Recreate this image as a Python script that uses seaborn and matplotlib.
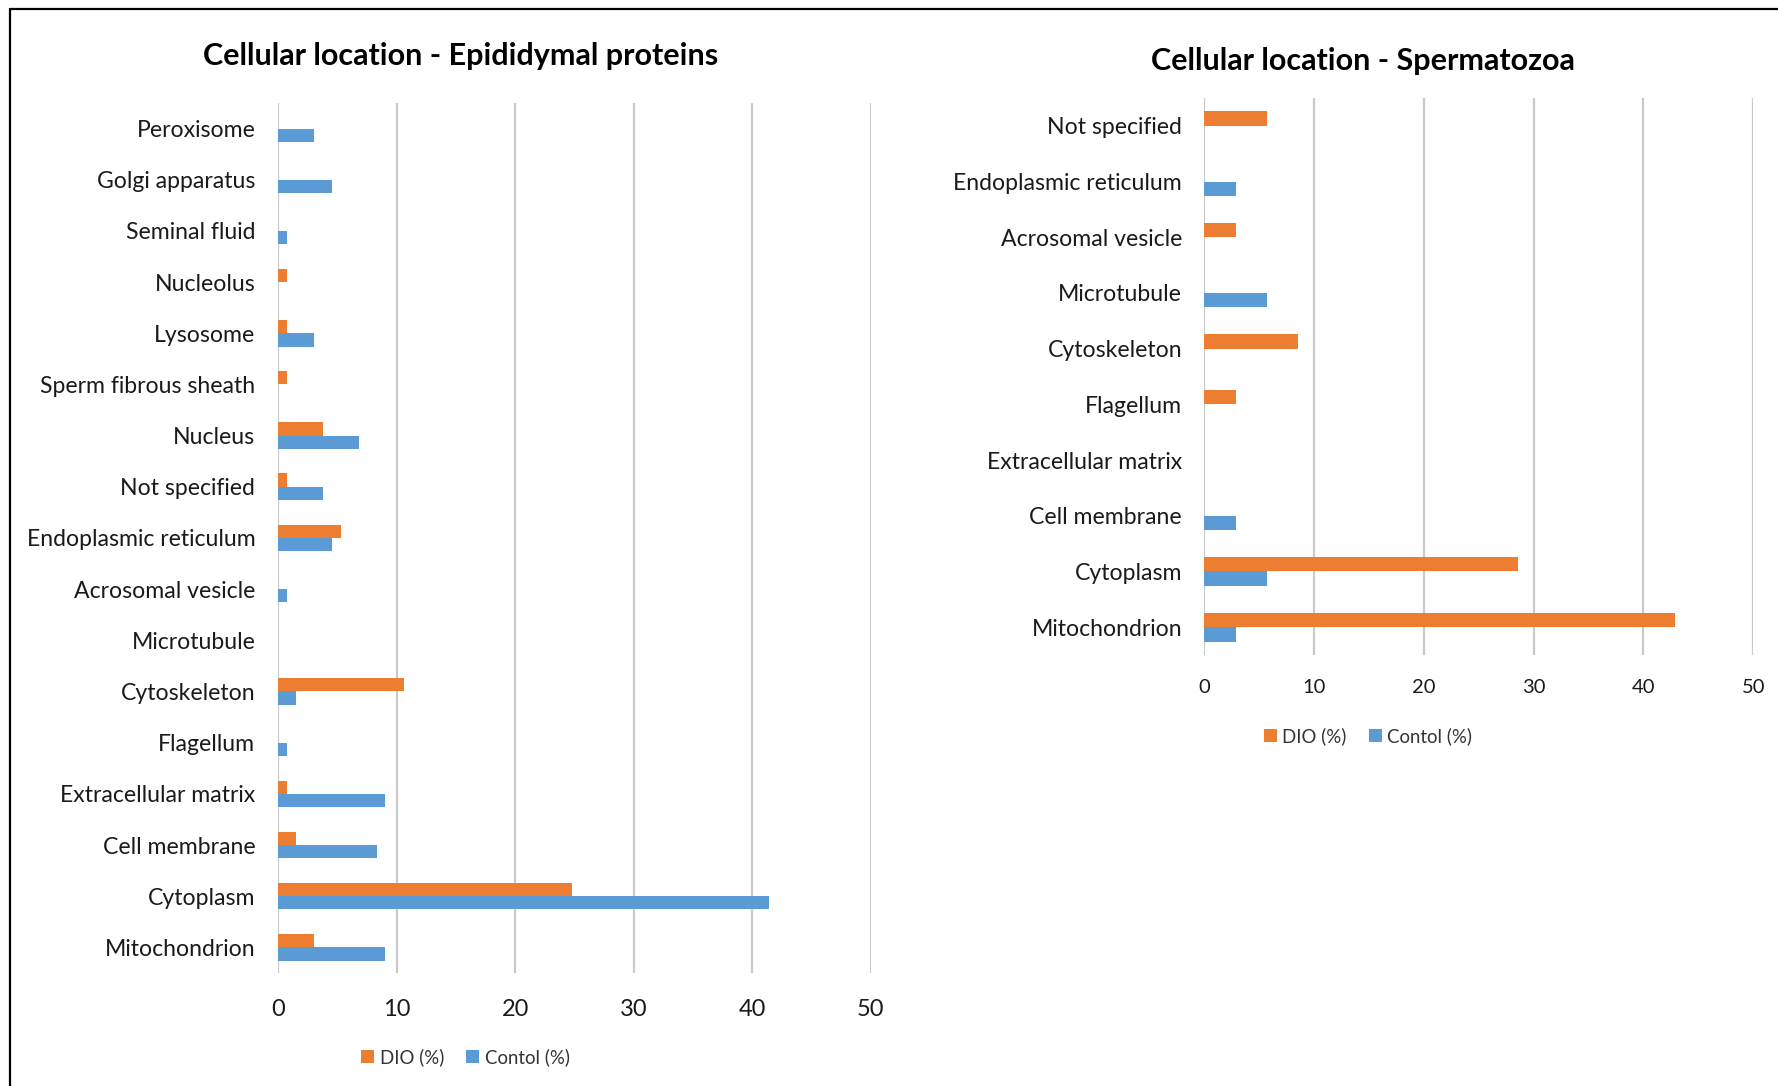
import matplotlib
matplotlib.use("Agg")
import matplotlib.pyplot as plt
from matplotlib.lines import Line2D
from matplotlib.patches import Patch
import seaborn as sns
import pandas as pd

# Epididymal proteins: share of proteins per cellular location (%)
epi_locations = [
    "Peroxisome", "Golgi apparatus", "Seminal fluid", "Nucleolus", "Lysosome",
    "Sperm fibrous sheath", "Nucleus", "Not specified", "Endoplasmic reticulum",
    "Acrosomal vesicle", "Microtubule", "Cytoskeleton", "Flagellum",
    "Extracellular matrix", "Cell membrane", "Cytoplasm", "Mitochondrion",
]
epi_dio = [0, 0, 0, 0.75, 0.75, 0.75, 3.8, 0.75, 5.3, 0, 0, 10.6, 0, 0.75, 1.5, 24.8, 3.0]
epi_control = [3.0, 4.5, 0.75, 0, 3.0, 0, 6.8, 3.8, 4.5, 0.75, 0, 1.5, 0.75, 9.0, 8.3, 41.4, 9.0]

# Spermatozoa: share of proteins per cellular location (%)
sperm_locations = [
    "Not specified", "Endoplasmic reticulum", "Acrosomal vesicle", "Microtubule",
    "Cytoskeleton", "Flagellum", "Extracellular matrix", "Cell membrane",
    "Cytoplasm", "Mitochondrion",
]
sperm_dio = [5.71, 0, 2.86, 0, 8.57, 2.86, 0, 0, 28.57, 42.86]
sperm_control = [0, 2.86, 0, 5.71, 0, 0, 0, 2.86, 5.71, 2.86]

series_names = ["DIO (%)", "Contol (%)"]
x_ticks = [0, 10, 20, 30, 40, 50]

ORANGE = "#ED7D31"
BLUE = "#5B9BD5"
GRID = "#c9c9c9"

sns.set_theme(style="white")
plt.rcParams["font.family"] = ["Lato", "DejaVu Sans"]


def long_table(locations, dio, control):
    rows = []
    for loc, d, c in zip(locations, dio, control):
        rows.append({"location": loc, "series": series_names[0], "value": d})
        rows.append({"location": loc, "series": series_names[1], "value": c})
    return pd.DataFrame(rows)


def draw_panel(ax, table, order, ylab_pad, xtick_size, xtick_pad):
    sns.barplot(
        data=table, y="location", x="value", hue="series", order=order,
        hue_order=series_names, palette=[ORANGE, BLUE], saturation=1, orient="h",
        width=0.52, dodge=True, gap=0, linewidth=0, errorbar=None,
        legend=False, ax=ax, zorder=3,
    )
    ax.set_xlim(0, 50)
    ax.set_xticks(x_ticks)
    ax.set_xlabel("")
    ax.set_ylabel("")
    for s in ax.spines.values():
        s.set_visible(False)
    for t in x_ticks:
        ax.axvline(t, color=GRID, lw=1.6, zorder=1)
    ax.tick_params(axis="y", length=0, pad=ylab_pad, labelsize=16.6, labelcolor="#1a1a1a")
    ax.tick_params(axis="x", length=0, pad=xtick_pad, labelsize=xtick_size, labelcolor="#1a1a1a")


fig = plt.figure(figsize=(17.78, 10.86), dpi=100)
fig.patch.set_facecolor("white")

ax1 = fig.add_axes([0.1565, 0.1041, 0.3332, 0.8011])
draw_panel(ax1, long_table(epi_locations, epi_dio, epi_control), epi_locations,
           ylab_pad=16.5, xtick_size=17, xtick_pad=18.5)

ax2 = fig.add_axes([0.6773, 0.3969, 0.3088, 0.5129])
draw_panel(ax2, long_table(sperm_locations, sperm_dio, sperm_control), sperm_locations,
           ylab_pad=16, xtick_size=14.5, xtick_pad=17)

fig.text(0.2593, 0.9480, "Cellular location - Epididymal proteins", ha="center", va="center",
         fontsize=22, fontweight="bold", color="black")
fig.text(0.7666, 0.9435, "Cellular location - Spermatozoa", ha="center", va="center",
         fontsize=22, fontweight="bold", color="black")

handles = [Patch(facecolor=ORANGE, edgecolor="none"), Patch(facecolor=BLUE, edgecolor="none")]
for cx, cy in [(0.2618, 0.0262), (0.7694, 0.3225)]:
    fig.legend(handles, series_names, loc="center", bbox_to_anchor=(cx, cy), ncol=2,
               frameon=False, fontsize=13.4, handlelength=0.7, handleheight=0.7,
               handletextpad=0.3, columnspacing=1.2, labelcolor="#333333")

# outer frame (left and top edges)
fig.add_artist(Line2D([0.0058, 0.0058], [0.0, 0.9917], transform=fig.transFigure,
                      color="black", lw=1.6))
fig.add_artist(Line2D([0.0058, 1.0], [0.9917, 0.9917], transform=fig.transFigure,
                      color="black", lw=1.6))

fig.savefig("out.png", dpi=100, facecolor="white")
